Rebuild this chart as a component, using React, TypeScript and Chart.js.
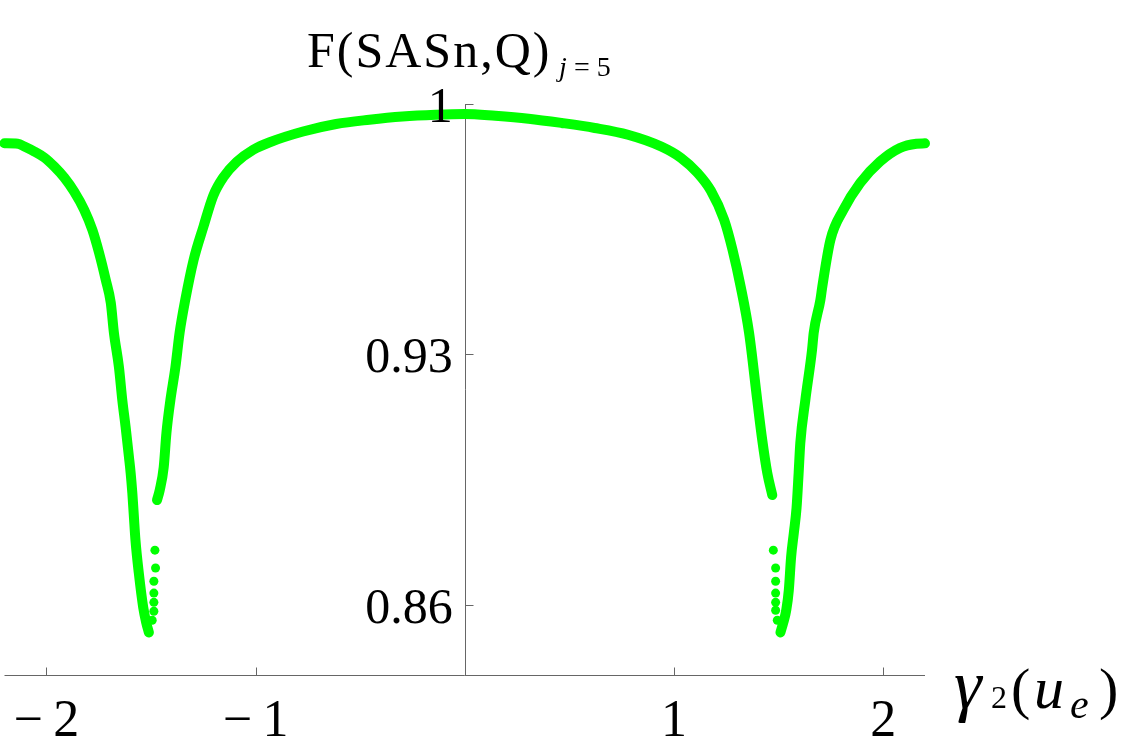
import { useEffect, useRef } from "react";
import { Chart, registerables } from "chart.js";

Chart.register(...registerables);

// ---- data ----
const leftBranchX = [-2.2, -2.136, -2.105, -2.057, -2.009, -1.962, -1.914, -1.867, -1.819, -1.78, -1.748, -1.716, -1.692, -1.677, -1.653, -1.637, -1.621, -1.605, -1.597, -1.589, -1.582, -1.574, -1.558, -1.537, -1.522, -1.51];
const leftBranchY = [0.989, 0.9889, 0.9881, 0.9867, 0.985, 0.9825, 0.9794, 0.9755, 0.9704, 0.9648, 0.9584, 0.9508, 0.9444, 0.936, 0.9264, 0.9172, 0.9096, 0.9012, 0.8968, 0.8912, 0.885, 0.878, 0.8688, 0.8592, 0.8548, 0.8522];

const centerBranchX = [-1.471, -1.458, -1.439, -1.426, -1.407, -1.383, -1.363, -1.336, -1.296, -1.249, -1.202, -1.154, -1.09, -1.011, -0.932, -0.773, -0.615, -0.456, -0.298, -0.139, 0.0, 0.146, 0.305, 0.463, 0.621, 0.78, 0.939, 1.034, 1.113, 1.176, 1.24, 1.28, 1.319, 1.359, 1.398, 1.422, 1.446, 1.47];
const centerBranchY = [0.8892, 0.892, 0.8984, 0.908, 0.9172, 0.9264, 0.936, 0.9452, 0.9564, 0.9657, 0.9744, 0.9795, 0.9838, 0.9872, 0.9893, 0.9923, 0.9944, 0.9956, 0.9965, 0.997, 0.9972, 0.9967, 0.9959, 0.9947, 0.9933, 0.9914, 0.9881, 0.9849, 0.9807, 0.9758, 0.9676, 0.9592, 0.9489, 0.936, 0.9172, 0.906, 0.8968, 0.8906];

const rightBranchX = [1.509, 1.522, 1.537, 1.549, 1.56, 1.573, 1.586, 1.596, 1.604, 1.628, 1.66, 1.668, 1.7, 1.709, 1.748, 1.81, 1.89, 1.985, 2.08, 2.159, 2.2];
const rightBranchY = [0.8522, 0.8548, 0.8585, 0.864, 0.8733, 0.88, 0.887, 0.8968, 0.9052, 0.9172, 0.9312, 0.936, 0.9452, 0.9489, 0.962, 0.9704, 0.9779, 0.9839, 0.9877, 0.9889, 0.989];

const dipDotsX = [-1.494, -1.486, -1.486, -1.486, -1.486, -1.478, -1.481, 1.475, 1.486, 1.486, 1.486, 1.486, 1.486, 1.494];
const dipDotsY = [0.8556, 0.8581, 0.8606, 0.8632, 0.8665, 0.8702, 0.8752, 0.8752, 0.8702, 0.8665, 0.8632, 0.8606, 0.8584, 0.8556];

const xTickValues = [-2, -1, 1, 2];
const xTickLabels = ["\u2212\u20092", "\u2212\u20091", "1", "2"];
const yTickValues = [0.86, 0.93, 1];
const yTickLabels = ["0.86", "0.93", "1"];

const X_MIN = -2.2;
const X_MAX = 2.2;
const Y_MIN = 0.84;
const Y_MAX = 1.0;

const GREEN = "rgb(0,255,0)";
const AXIS = "#666666";
const SERIF = "'Liberation Serif', 'Times New Roman', serif";

const toPoints = (xs: number[], ys: number[]) => xs.map((x, i) => ({ x, y: ys[i] }));

const axesPlugin = {
  id: "mathAxes",
  beforeDatasetsDraw(chart: any) {
    const { ctx } = chart;
    const xs = chart.scales.x;
    const ys = chart.scales.y;
    const x0 = Math.round(xs.getPixelForValue(0)) + 0.5;
    const yb = Math.round(ys.getPixelForValue(Y_MIN)) - 0.5;
    ctx.save();
    ctx.strokeStyle = AXIS;
    ctx.lineWidth = 1;
    ctx.beginPath();
    ctx.moveTo(xs.left, yb);
    ctx.lineTo(xs.right, yb);
    ctx.moveTo(x0, ys.getPixelForValue(Y_MAX));
    ctx.lineTo(x0, yb);
    xTickValues.forEach((v) => {
      const px = Math.round(xs.getPixelForValue(v)) + 0.5;
      ctx.moveTo(px, yb);
      ctx.lineTo(px, yb - 8);
    });
    yTickValues.forEach((v) => {
      const py = Math.round(ys.getPixelForValue(v)) + 0.5;
      ctx.moveTo(x0, py);
      ctx.lineTo(x0 + 8, py);
    });
    ctx.stroke();
    ctx.restore();
  },
  afterDraw(chart: any) {
    const { ctx } = chart;
    const xs = chart.scales.x;
    const ys = chart.scales.y;
    const x0 = xs.getPixelForValue(0);
    const yb = ys.getPixelForValue(Y_MIN);
    ctx.save();
    ctx.fillStyle = "#000";
    ctx.textBaseline = "alphabetic";
    ctx.textAlign = "center";
    ctx.font = `52px ${SERIF}`;
    xTickValues.forEach((v, i) => {
      ctx.fillText(xTickLabels[i], xs.getPixelForValue(v), yb + 60);
    });
    ctx.font = `50px ${SERIF}`;
    ctx.textAlign = "right";
    yTickValues.forEach((v, i) => {
      ctx.fillText(yTickLabels[i], x0 - 12, ys.getPixelForValue(v) + 18);
    });

    // y-axis title
    ctx.textAlign = "left";
    (ctx as any).letterSpacing = "2px";
    ctx.font = `50px ${SERIF}`;
    ctx.fillText("F(SASn,Q)", 307, 67);
    (ctx as any).letterSpacing = "0px";
    ctx.font = `italic 28px ${SERIF}`;
    ctx.fillText("j", 559, 76);
    ctx.font = `28px ${SERIF}`;
    ctx.fillText("= 5", 574, 76);

    // x-axis title  γ2(ue)
    const base = 708;
    ctx.font = `italic 70px ${SERIF}`;
    ctx.fillText("\u03B3", 954, base);
    ctx.font = `32px ${SERIF}`;
    ctx.fillText("2", 991, base);
    ctx.font = `58px ${SERIF}`;
    ctx.fillText("(", 1011, base);
    ctx.font = `italic 60px ${SERIF}`;
    ctx.fillText("u", 1034, base);
    ctx.font = `italic 42px ${SERIF}`;
    ctx.fillText("e", 1070, base + 10);
    ctx.font = `58px ${SERIF}`;
    ctx.fillText(")", 1099, base);
    ctx.restore();
  },
};

export default function App() {
  const ref = useRef<HTMLCanvasElement | null>(null);
  useEffect(() => {
    if (!ref.current) return;
    const lineStyle = {
      showLine: true,
      borderColor: GREEN,
      backgroundColor: GREEN,
      borderWidth: 10,
      pointRadius: 0,
      cubicInterpolationMode: "monotone" as const,
      borderCapStyle: "round" as const,
      borderJoinStyle: "round" as const,
    };
    const chart = new Chart(ref.current, {
      type: "scatter",
      data: {
        datasets: [
          { ...lineStyle, data: toPoints(leftBranchX, leftBranchY) },
          { ...lineStyle, data: toPoints(centerBranchX, centerBranchY) },
          { ...lineStyle, data: toPoints(rightBranchX, rightBranchY) },
          {
            data: toPoints(dipDotsX, dipDotsY),
            showLine: false,
            pointRadius: 4.5,
            pointBorderWidth: 0,
            backgroundColor: GREEN,
            borderColor: GREEN,
          },
        ],
      },
      options: {
        animation: false,
        responsive: false,
        devicePixelRatio: 1,
        layout: { padding: { left: 0, right: 200, top: 104, bottom: 79 } },
        plugins: { legend: { display: false }, tooltip: { enabled: false } },
        scales: {
          x: { type: "linear", min: X_MIN, max: X_MAX, display: false },
          y: { type: "linear", min: Y_MIN, max: Y_MAX, display: false },
        },
        clip: false as any,
      },
      plugins: [axesPlugin],
    });
    return () => chart.destroy();
  }, []);
  return (
    <div style={{ position: "absolute", left: 0, top: 0, width: 1125, height: 755, background: "#fff" }}>
      <canvas ref={ref} width={1125} height={755} />
    </div>
  );
}
